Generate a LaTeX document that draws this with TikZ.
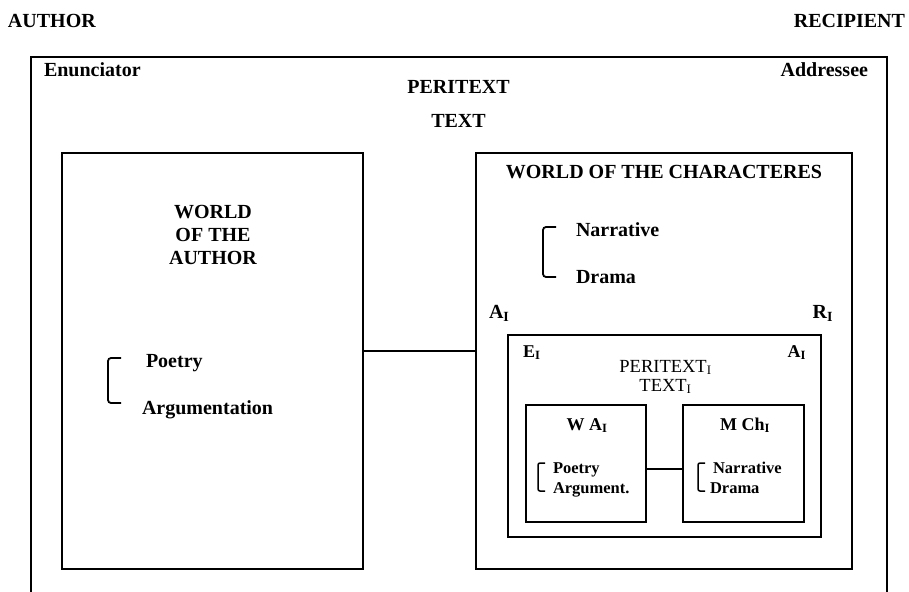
\documentclass[tikz,border=0pt]{standalone}
\usepackage{fontspec}
\setmainfont{Liberation Serif}
\newcommand{\subI}{\textsubscript{I}}
\begin{document}
\begin{tikzpicture}[x=1pt,y=-1pt,
  box/.style={draw,line width=2.8pt,inner sep=0pt,outer sep=0pt},
  lbl/.style={inner sep=0pt,outer sep=0pt,font=\fontsize{20}{23}\selectfont\bfseries},
  slbl/.style={inner sep=0pt,outer sep=0pt,font=\fontsize{18}{20}\selectfont\bfseries},
  tlbl/.style={inner sep=0pt,outer sep=0pt,font=\fontsize{16.5}{19}\selectfont\bfseries},
  plbl/.style={inner sep=0pt,outer sep=0pt,font=\fontsize{18.5}{20}\selectfont},
  link/.style={line width=2.6pt},
  brace/.style={line width=1.8pt,rounded corners=3pt}]
\useasboundingbox (0,0) rectangle (909,591);
\clip (0,0) rectangle (909,591);

% outer frame, open at the bottom
\node[box,minimum width=856pt,minimum height=600pt,anchor=north west] (outer) at (31,57) {};

% headings above the frame
\node[lbl,anchor=base west] (author) at (8,28) {AUTHOR};
\node[lbl,anchor=base east] (recipient) at (905,28) {RECIPIENT};
\node[lbl,anchor=base west] (enun) at (44,77) {Enunciator};
\node[lbl,anchor=base east] (addr) at (868,77) {Addressee};
\node[lbl,anchor=base] (peri) at (458.5,94) {PERITEXT};
\node[lbl,anchor=base] (text) at (458.5,128) {TEXT};

% world of the author
\node[box,minimum width=301pt,minimum height=416pt] (lbox) at (212.5,361) {};
\node[lbl,anchor=base] (wa1) at (213,218) {WORLD};
\node[lbl,anchor=base] (wa2) at (213,241) {OF THE};
\node[lbl,anchor=base] (wa3) at (213,264) {AUTHOR};
\node[lbl,anchor=base west] (poetry) at (146,367) {Poetry};
\node[lbl,anchor=base west] (argu) at (142,414) {Argumentation};
\draw[brace] (121,358) -- (108,358) -- (108,403) -- (121,403);

% world of the characters
\node[box,minimum width=376pt,minimum height=416pt] (rbox) at (664,361) {};
\node[lbl,anchor=base] (woc) at (664,178) {WORLD OF THE CHARACTERES};
\node[lbl,anchor=base west] (narr) at (576,236) {Narrative};
\node[lbl,anchor=base west] (drama) at (576,283) {Drama};
\draw[brace] (556,227) -- (543,227) -- (543,277) -- (556,277);
\node[lbl,anchor=base west] (ai) at (489,318) {A\subI};
\node[lbl,anchor=base east] (ri) at (833,318) {R\subI};

\draw[link] (lbox.east |- 0,351) -- (rbox.west |- 0,351);

% embedded text
\node[box,minimum width=313pt,minimum height=202pt] (ibox) at (664.5,436) {};
\node[slbl,anchor=base west] (ei) at (523,357) {E\subI};
\node[slbl,anchor=base east] (aii) at (806,357) {A\subI};
\node[plbl,anchor=base] (perii) at (665.5,372) {PERITEXT\subI};
\node[plbl,anchor=base] (texti) at (665.5,391) {TEXT\subI};

\node[box,minimum width=120pt,minimum height=117pt] (wai) at (586,463.5) {};
\node[slbl,anchor=base] (waih) at (587,430) {W A\subI};
\node[tlbl,anchor=base west] (poetryi) at (553,473) {Poetry};
\node[tlbl,anchor=base west] (argui) at (553,493) {Argument.};
\draw[brace,line width=1.5pt,rounded corners=2pt] (545,463) -- (538,463) -- (538,491) -- (545,491);

\node[box,minimum width=121pt,minimum height=117pt] (mchi) at (743.5,463.5) {};
\node[slbl,anchor=base] (mchih) at (745,430) {M Ch\subI};
\node[tlbl,anchor=base west] (narri) at (713,473) {Narrative};
\node[tlbl,anchor=base west] (dramai) at (710,493) {Drama};
\draw[brace,line width=1.5pt,rounded corners=2pt] (705,463) -- (698,463) -- (698,491) -- (705,491);

\draw[link] (wai.east |- 0,469) -- (mchi.west |- 0,469);
\end{tikzpicture}
\end{document}
